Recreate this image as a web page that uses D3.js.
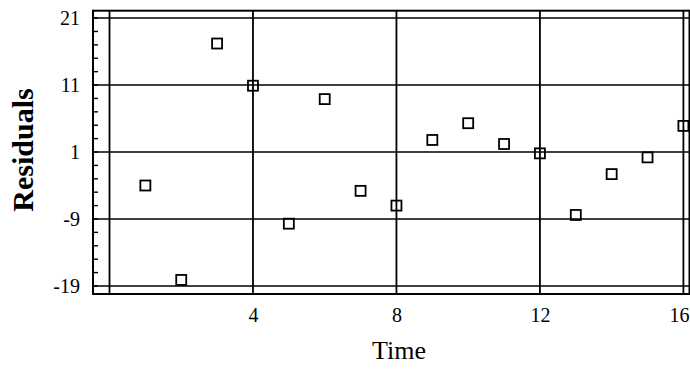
<!DOCTYPE html>
<html>
<head>
<meta charset="utf-8">
<script src="https://cdn.jsdelivr.net/npm/d3@7"></script>
<style>
  html, body { margin: 0; padding: 0; background: #fff; }
  svg { display: block; }
</style>
</head>
<body>
<script>
// Data
const times = [1, 2, 3, 4, 5, 6, 7, 8, 9, 10, 11, 12, 13, 14, 15, 16];
const residuals = [-4.0, -18.1, 17.2, 10.9, -9.7, 8.9, -4.8, -7.0, 2.8, 5.3, 2.2, 0.8, -8.4, -2.3, 0.2, 4.9];
const yTicks = [21, 11, 1, -9, -19];
const xGrid = [0, 4, 8, 12, 16];
const xTickLabels = [4, 8, 12, 16];
const yMinorTicks = d3.range(-19, 22, 2);

const W = 690, H = 371;
const frame = { left: 93, right: 689.5, top: 10.7, bottom: 294 };

const x = d3.scaleLinear().domain([-0.46, 16.17]).range([frame.left, frame.right]);
const y = d3.scaleLinear().domain([-20.2, 22.1]).range([frame.bottom, frame.top]);

const svg = d3.select("body").append("svg")
  .attr("width", W).attr("height", H);

const font = "'Liberation Serif', 'Times New Roman', serif";

// Horizontal grid lines
svg.append("g").selectAll("line").data(yTicks).join("line")
  .attr("x1", frame.left).attr("x2", frame.right)
  .attr("y1", d => y(d)).attr("y2", d => y(d))
  .attr("stroke", "#000").attr("stroke-width", 1.6);

// Vertical grid lines
svg.append("g").selectAll("line").data(xGrid).join("line")
  .attr("y1", frame.top).attr("y2", frame.bottom)
  .attr("x1", d => x(d)).attr("x2", d => x(d))
  .attr("stroke", "#000").attr("stroke-width", 1.8);

// Minor ticks on left frame
svg.append("g").selectAll("line").data(yMinorTicks).join("line")
  .attr("x1", frame.left).attr("x2", frame.left + 5)
  .attr("y1", d => y(d)).attr("y2", d => y(d))
  .attr("stroke", "#000").attr("stroke-width", 1.4);

// Frame
svg.append("rect")
  .attr("x", frame.left).attr("y", frame.top)
  .attr("width", frame.right - frame.left).attr("height", frame.bottom - frame.top)
  .attr("fill", "none").attr("stroke", "#000").attr("stroke-width", 2);

// Y axis labels
const yAxis = d3.axisLeft(y).tickValues(yTicks).tickSize(0).tickPadding(0)
  .tickFormat(d => String(d));
const gy = svg.append("g").attr("transform", `translate(${frame.left - 13},0)`).call(yAxis);
gy.select(".domain").remove();
gy.selectAll("text").attr("font-family", font).attr("font-size", 20).attr("fill", "#000");

// X axis labels
const xAxis = d3.axisBottom(x).tickValues(xTickLabels).tickSize(0).tickPadding(0)
  .tickFormat(d => String(d));
const gx = svg.append("g").attr("transform", `translate(0,${frame.bottom + 14})`).call(xAxis);
gx.select(".domain").remove();
gx.selectAll("text").attr("font-family", font).attr("font-size", 20).attr("fill", "#000");
// keep the last label inside the page
gx.selectAll(".tick").filter(d => d === 16).select("text")
  .attr("text-anchor", "end").attr("dx", (frame.right - x(16)) - 0.5);

// Points (open squares)
const s = 10;
svg.append("g").selectAll("rect").data(times.map((t, i) => [t, residuals[i]])).join("rect")
  .attr("x", d => x(d[0]) - s / 2).attr("y", d => y(d[1]) - s / 2)
  .attr("width", s).attr("height", s)
  .attr("fill", "none").attr("stroke", "#000").attr("stroke-width", 1.8);

// Axis titles
svg.append("text")
  .attr("x", 399).attr("y", 359)
  .attr("text-anchor", "middle")
  .attr("font-family", font).attr("font-size", 26)
  .text("Time");

svg.append("text")
  .attr("transform", "translate(33,150) rotate(-90)")
  .attr("text-anchor", "middle")
  .attr("font-family", font).attr("font-size", 30).attr("font-weight", "bold")
  .text("Residuals");
</script>
</body>
</html>
